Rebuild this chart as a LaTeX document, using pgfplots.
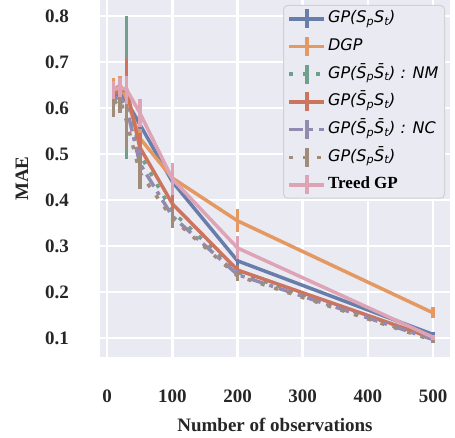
\documentclass[border=0pt]{standalone}
\usepackage{fontspec}
\setmainfont{Liberation Serif}
\newfontfamily\legfont{DejaVu Sans}
\usepackage{pgfplots}
\pgfplotsset{compat=1.18}

\definecolor{bg}{HTML}{EAEAF2}
\definecolor{cblue}{RGB}{104,126,170}
\definecolor{corange}{RGB}{228,152,98}
\definecolor{cgreen}{RGB}{112,160,140}
\definecolor{cred}{RGB}{204,116,94}
\definecolor{cpurple}{RGB}{146,138,176}
\definecolor{cbrown}{RGB}{160,140,120}
\definecolor{cpink}{RGB}{222,164,182}

\pgfplotsset{
  eb/.style={
    line width=3.5pt,
    error bars/y dir=both, error bars/y explicit, error bars/error mark=none,
    error bars/error bar style={line width=3.5pt, solid, line cap=butt}
  }
}

\begin{document}
\begin{tikzpicture}
\useasboundingbox (-100pt,-80pt) rectangle (355pt,357pt);
\begin{axis}[
  scale only axis, width=350pt, height=357pt,
  at={(0pt,0pt)}, anchor=south west,
  xmin=-11, xmax=526, ymin=0.059, ymax=0.835,
  axis background/.style={fill=bg},
  axis line style={draw=none},
  tick style={draw=none},
  grid=major, major grid style={white, line width=2.5pt},
  xtick={0,100,200,300,400,500},
  ytick={0.1,0.2,0.3,0.4,0.5,0.6,0.7,0.8},
  yticklabels={0.1,0.2,0.3,0.4,0.5,0.6,0.7,0.8},
  /pgf/number format/assume math mode=true,
  ticklabel style={font=\fontsize{19}{19}\selectfont\bfseries, text=black!85, inner sep=0pt},
  yticklabel style={anchor=east, xshift=-31pt},
  xticklabel style={anchor=north, yshift=-33pt},
  xlabel={Number of observations}, ylabel={MAE},
  label style={font=\fontsize{19}{19}\selectfont\bfseries, text=black!85, inner sep=0pt},
  xlabel style={at={(axis description cs:0.5,-0.171)}, anchor=north},
  ylabel style={at={(axis description cs:-0.223,0.5)}, anchor=center},
  legend style={at={(1,1)}, anchor=north east, xshift=-5pt, yshift=-5pt,
    fill=bg, draw=black!18, line width=1pt, rounded corners=4pt,
    font=\legfont\itshape\fontsize{16}{16}\selectfont,
    inner xsep=4pt, inner ysep=2pt, row sep=5.2pt,
    cells={anchor=west},
    nodes={inner sep=2pt, text height=11.5pt, text depth=3.5pt}},
  legend image code/.code={
    \draw[#1, line cap=butt] (0pt,0pt) -- (35pt,0pt);
    \draw[#1, solid, line cap=butt] (17.5pt,-9.5pt) -- (17.5pt,9.5pt);
  },
]

% GP(SpSt)
\addplot[cblue, eb] coordinates {
  (10,0.625) +- (0,0.020)
  (20,0.635) +- (0,0.020)
  (30,0.615) +- (0,0.030)
  (50,0.565) +- (0,0.030)
  (100,0.440) +- (0,0.030)
  (200,0.268) +- (0,0.010)
  (500,0.108) +- (0,0.006)
};
% DGP
\addplot[corange, eb] coordinates {
  (10,0.640) +- (0,0.025)
  (20,0.650) +- (0,0.020)
  (30,0.620) +- (0,0.020)
  (50,0.535) +- (0,0.020)
  (100,0.448) +- (0,0.020)
  (200,0.355) +- (0,0.025)
  (500,0.155) +- (0,0.012)
};
% NM
\addplot[cgreen, eb, dash pattern=on 4pt off 9.5pt] coordinates {
  (10,0.615) +- (0,0.030)
  (20,0.630) +- (0,0.025)
  (30,0.645) +- (0,0.155)
  (50,0.500) +- (0,0.025)
  (100,0.375) +- (0,0.015)
  (200,0.243) +- (0,0.010)
  (500,0.100) +- (0,0.005)
};
% GP(bar Sp St)
\addplot[cred, eb] coordinates {
  (10,0.630) +- (0,0.025)
  (20,0.640) +- (0,0.025)
  (30,0.640) +- (0,0.070)
  (50,0.515) +- (0,0.030)
  (100,0.392) +- (0,0.020)
  (200,0.248) +- (0,0.010)
  (500,0.100) +- (0,0.005)
};
% NC
\addplot[cpurple, eb, dash pattern=on 14pt off 6pt on 4pt off 6pt] coordinates {
  (10,0.620) +- (0,0.030)
  (20,0.625) +- (0,0.025)
  (30,0.600) +- (0,0.040)
  (50,0.480) +- (0,0.030)
  (100,0.365) +- (0,0.015)
  (200,0.238) +- (0,0.010)
  (500,0.097) +- (0,0.005)
};
% GP(Sp bar St)
\addplot[cbrown, eb, dash pattern=on 4pt off 10pt] coordinates {
  (10,0.610) +- (0,0.030)
  (20,0.620) +- (0,0.030)
  (30,0.570) +- (0,0.060)
  (50,0.460) +- (0,0.035)
  (100,0.360) +- (0,0.020)
  (200,0.235) +- (0,0.010)
  (500,0.095) +- (0,0.005)
};
% Treed GP
\addplot[cpink, eb] coordinates {
  (10,0.640) +- (0,0.020)
  (20,0.645) +- (0,0.020)
  (30,0.640) +- (0,0.030)
  (50,0.590) +- (0,0.030)
  (100,0.446) +- (0,0.035)
  (200,0.296) +- (0,0.025)
  (500,0.102) +- (0,0.005)
};

\legend{
  GP(S\textsubscript{p}S\textsubscript{t}),
  DGP,
  GP(\={S}\textsubscript{p}\={S}\textsubscript{t}) : NM,
  GP(\={S}\textsubscript{p}S\textsubscript{t}),
  GP(\={S}\textsubscript{p}\={S}\textsubscript{t}) : NC,
  GP(S\textsubscript{p}\={S}\textsubscript{t}),
  {\rmfamily\upshape\bfseries\fontsize{17}{17}\selectfont Treed GP}
}
\end{axis}
\end{tikzpicture}
\end{document}
